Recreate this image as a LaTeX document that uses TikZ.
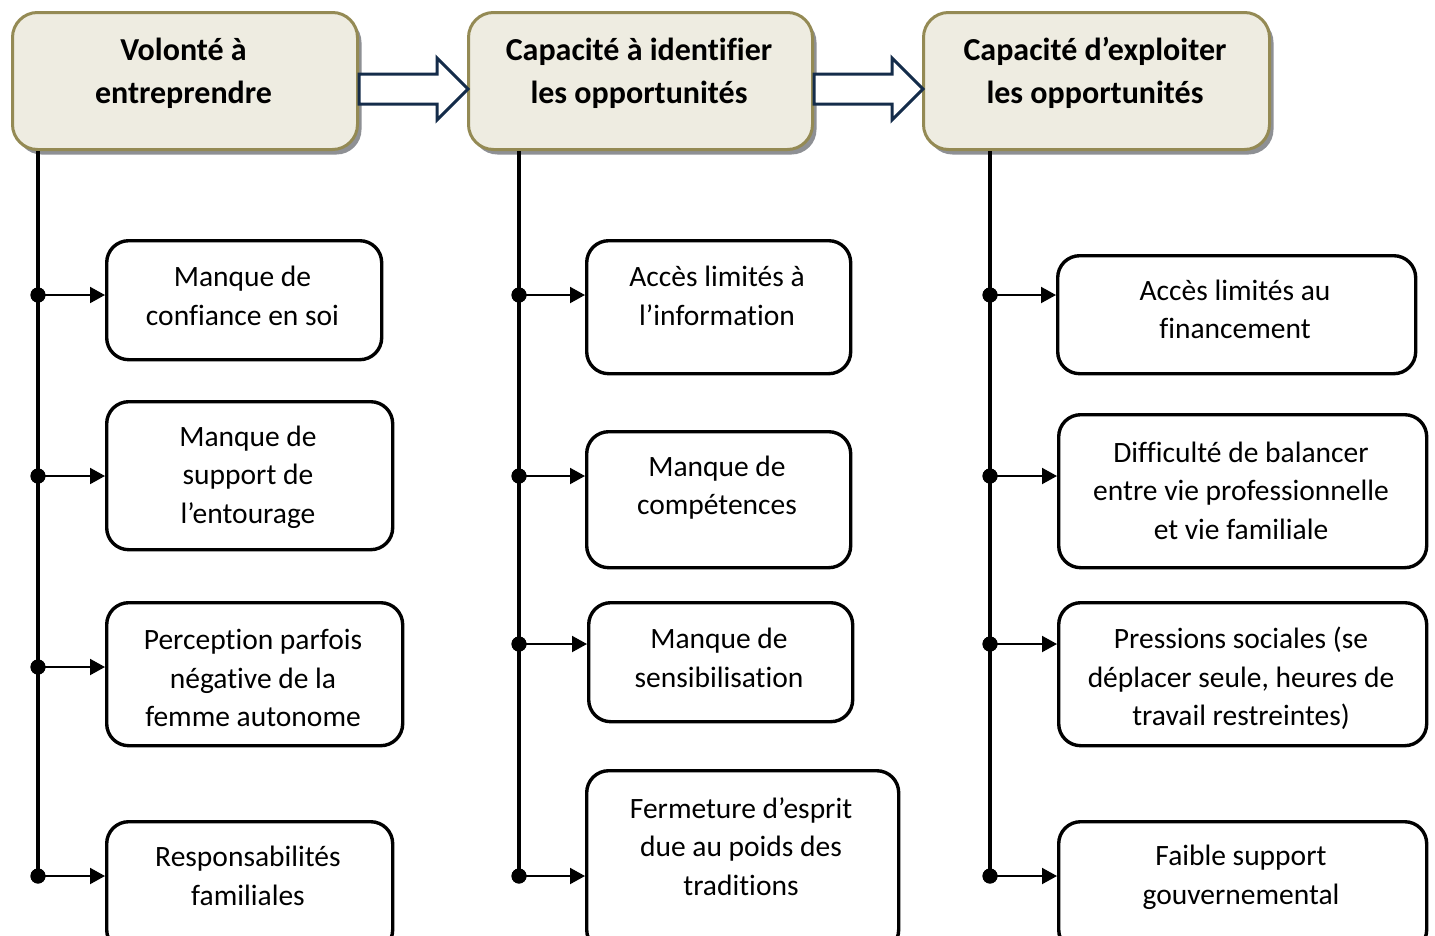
\documentclass[tikz,border=0pt]{standalone}
\usepackage{fontspec}
\setmainfont{Carlito}[Ligatures={NoCommon}]
\usetikzlibrary{arrows.meta,shadows,calc}
\definecolor{hdrfill}{HTML}{EEECE1}
\definecolor{hdrline}{HTML}{948A54}
\definecolor{navy}{HTML}{142C4A}
\definecolor{shadowgray}{HTML}{8E9094}
\tikzset{
  hdr/.style={draw=hdrline, line width=3pt, fill=hdrfill, rounded corners=25pt,
    anchor=north west, inner sep=0pt,
    drop shadow={shadow xshift=4pt, shadow yshift=-5pt, fill=shadowgray, opacity=1}},
  hdrtxt/.style={align=center, font=\fontsize{32}{43}\selectfont\bfseries, inner sep=0pt},
  box/.style={draw=black, line width=3.4pt, fill=white, rounded corners=22pt,
    anchor=north west, inner sep=0pt},
  boxtxt/.style={align=center, font=\fontsize{29.5}{38.6}\selectfont, inner sep=0pt},
  vline/.style={line width=3.4pt, black},
  branch/.style={line width=2pt, black, -{Triangle[length=15pt,width=16pt]}},
  dot/.style={circle, fill=black, minimum size=15pt, inner sep=0pt},
  blockarrow/.style={draw=navy, line width=3pt, fill=white, line join=miter},
}
\begin{document}
\begin{tikzpicture}[x=1pt,y=-1pt]
\useasboundingbox (0,0) rectangle (1435,935);
\clip (0,0) rectangle (1435,935);
\fill[white] (0,0) rectangle (1435,935);

% headers
\node[hdr, minimum width=345pt, minimum height=137pt] (h1) at (11,11) {};
\node[hdr, minimum width=344pt, minimum height=137pt] (h2) at (467,11) {};
\node[hdr, minimum width=346pt, minimum height=137pt] (h3) at (922,11) {};
\node[hdrtxt] (th1) at (183.5,73) {Volonté à\\entreprendre};
\node[hdrtxt] (th2) at (639,73) {Capacité à identifier\\les opportunités};
\node[hdrtxt] (th3) at (1095,73) {Capacité d’exploiter\\les opportunités};

% block arrows between headers
\draw[blockarrow] let \p1=(h1.east), \p2=(h2.west) in
  (\x1,\y1-8pt+15pt) -- (\x2-30pt,\y1-8pt+15pt) -- (\x2-30pt,\y1-8pt+31pt) --
  (\x2+1pt,\y1-8pt) -- (\x2-30pt,\y1-8pt-31pt) -- (\x2-30pt,\y1-8pt-15pt) --
  (\x1,\y1-8pt-15pt) -- cycle;
\draw[blockarrow] let \p1=(h2.east), \p2=(h3.west) in
  (\x1,\y1-8pt+15pt) -- (\x2-30pt,\y1-8pt+15pt) -- (\x2-30pt,\y1-8pt+31pt) --
  (\x2+1pt,\y1-8pt) -- (\x2-30pt,\y1-8pt-31pt) -- (\x2-30pt,\y1-8pt-15pt) --
  (\x1,\y1-8pt-15pt) -- cycle;

% column 1 boxes
\node[box, minimum width=275pt, minimum height=119pt] (b11) at (105,239) {};
\node[box, minimum width=286pt, minimum height=148pt] (b12) at (105,400) {};
\node[box, minimum width=296pt, minimum height=143pt] (b13) at (105,601) {};
\node[box, minimum width=286pt, minimum height=130pt] (b14) at (105,820) {};
\node[boxtxt] (t11) at (242.5,296) {Manque de\\confiance en soi};
\node[boxtxt] (t12) at (248,477) {Manque de\\support de\\l’entourage};
\node[boxtxt] (t13) at (253,678) {Perception parfois\\négative de la\\femme autonome};
\node[boxtxt] (t14) at (248,876) {Responsabilités\\familiales};

% column 2 boxes
\node[box, minimum width=264pt, minimum height=133pt] (b21) at (585,239) {};
\node[box, minimum width=264pt, minimum height=136pt] (b22) at (585,430) {};
\node[box, minimum width=264pt, minimum height=119pt] (b23) at (587,601) {};
\node[box, minimum width=312pt, minimum height=181pt] (b24) at (585,769) {};
\node[boxtxt] (t21) at (717,296) {Accès limités à\\l’information};
\node[boxtxt] (t22) at (717,487.5) {Manque de\\compétences};
\node[boxtxt] (t23) at (719,658) {Manque de\\sensibilisation};
\node[boxtxt] (t24) at (741,846.5) {Fermeture d’esprit\\due au poids des\\traditions};

% column 3 boxes
\node[box, minimum width=358pt, minimum height=118pt] (b31) at (1056,254) {};
\node[box, minimum width=368pt, minimum height=153pt] (b32) at (1057,413) {};
\node[box, minimum width=368pt, minimum height=143pt] (b33) at (1057,601) {};
\node[box, minimum width=368pt, minimum height=130pt] (b34) at (1057,820) {};
\node[boxtxt] (t31) at (1235,309.5) {Accès limités au\\financement};
\node[boxtxt] (t32) at (1241,490.5) {Difficulté de balancer\\entre vie professionnelle\\et vie familiale};
\node[boxtxt] (t33) at (1241,678.5) {Pressions sociales (se\\déplacer seule, heures de\\travail restreintes)};
\node[boxtxt] (t34) at (1241,877) {Faible support\\gouvernemental};

% junction dots
\node[dot] (d11) at (38,295) {};
\node[dot] (d12) at (38,476) {};
\node[dot] (d13) at (38,667) {};
\node[dot] (d14) at (38,876) {};
\node[dot] (d21) at (519,295) {};
\node[dot] (d22) at (519,476) {};
\node[dot] (d23) at (519,644) {};
\node[dot] (d24) at (519,876) {};
\node[dot] (d31) at (990,295) {};
\node[dot] (d32) at (990,476) {};
\node[dot] (d33) at (990,644) {};
\node[dot] (d34) at (990,876) {};

% vertical spines
\draw[vline] (d11 |- h1.south) -- (d14.center);
\draw[vline] (d21 |- h2.south) -- (d24.center);
\draw[vline] (d31 |- h3.south) -- (d34.center);

% branches
\foreach \c in {1,2,3}{
  \foreach \r in {1,2,3,4}{
    \draw[branch] (d\c\r.center) -- (d\c\r -| b\c\r.west);
  }
}
\foreach \c in {1,2,3}{
  \foreach \r in {1,2,3,4}{
    \fill (d\c\r) circle (7.5pt);
  }
}
\end{tikzpicture}
\end{document}
